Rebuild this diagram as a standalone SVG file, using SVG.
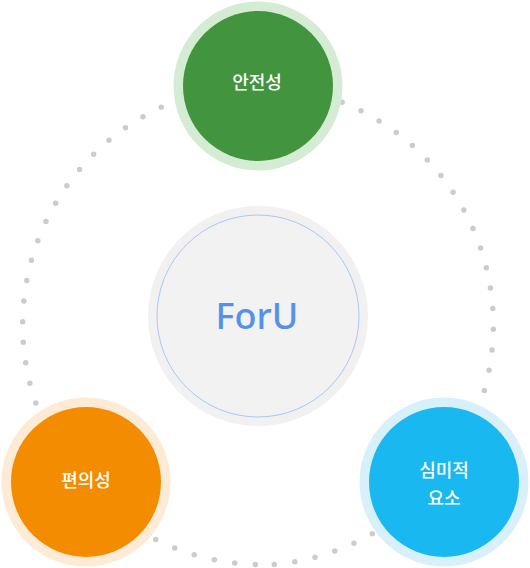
<svg xmlns="http://www.w3.org/2000/svg" width="530" height="568" viewBox="0 0 530 568">
  <style>
    .label { font-family: "Noto Sans CJK KR", "Noto Sans", sans-serif; font-size: 18px; font-weight: 500; fill: #ffffff; text-anchor: middle; }
    .core { font-family: "Noto Sans", "Noto Sans CJK KR", sans-serif; font-size: 36px; font-weight: 500; fill: #5591e8; text-anchor: middle; }
  </style>
  <rect width="530" height="568" fill="#ffffff"/>
  <g id="connectors">
    <path d="M274.3 564.4 A240 240 0 0 0 241.7 85.6 A240 240 0 0 0 274.3 564.4" fill="none" stroke="#cccccc" stroke-width="5.5" stroke-linecap="round" stroke-dasharray="0 20.7"/>
  </g>
  <g id="center">
    <circle cx="258" cy="316" r="110" fill="#f1f1f1"/>
    <circle cx="258" cy="316" r="101" fill="#f2f2f2" stroke="#a9c8f5" stroke-width="1"/>
    <text class="core" x="257" y="329">ForU</text>
  </g>
  <g id="safety">
    <circle cx="258" cy="86" r="84.5" fill="#d4ecd3"/>
    <circle cx="258" cy="86" r="75" fill="#43943f"/>
    <text class="label" x="257" y="89">안전성</text>
  </g>
  <g id="convenience">
    <circle cx="86" cy="482" r="84.5" fill="#fdebd5"/>
    <circle cx="86" cy="482" r="75" fill="#f48c02"/>
    <text class="label" x="86" y="487">편의성</text>
  </g>
  <g id="aesthetic">
    <circle cx="444" cy="482" r="84.5" fill="#d8f0fa"/>
    <circle cx="444" cy="482" r="75" fill="#1ab8f0"/>
    <text class="label" x="444" y="476.5">심미적</text>
    <text class="label" x="444" y="504.5">요소</text>
  </g>
</svg>
